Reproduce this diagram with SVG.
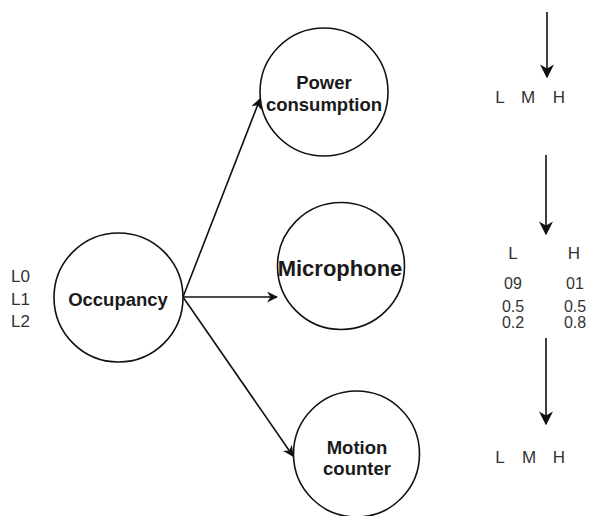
<svg xmlns="http://www.w3.org/2000/svg" width="591" height="516" viewBox="0 0 591 516">
<defs>
<marker id="ah" viewBox="0 0 10 10" refX="9" refY="5" markerWidth="11" markerHeight="11" markerUnits="userSpaceOnUse" orient="auto">
<path d="M0,0 L10,5 L0,10 L3,5 Z" fill="#111"/>
</marker>
<marker id="ahb" viewBox="0 0 10 10" refX="9" refY="5" markerWidth="14" markerHeight="14" markerUnits="userSpaceOnUse" orient="auto">
<path d="M0,0 L10,5 L0,10 L3,5 Z" fill="#111"/>
</marker>
<style>
.node{fill:#fff;stroke:#111;stroke-width:1.6}
.lbl{font-family:"Liberation Sans",Arial,sans-serif;font-weight:bold;fill:#1a1a1a;text-anchor:middle;dominant-baseline:central}
.t{font-family:"Liberation Sans",Arial,sans-serif;fill:#333;font-size:17px;dominant-baseline:central}
.n{font-size:16px}
.c{text-anchor:middle}
.edge{stroke:#111;stroke-width:1.6;fill:none}
</style>
</defs>
<rect width="591" height="516" fill="#fff"/>
<g id="connectors">
<line class="edge" x1="183" y1="297" x2="260" y2="99" marker-end="url(#ah)"/>
<line class="edge" x1="183" y1="297" x2="277" y2="297" marker-end="url(#ah)"/>
<line class="edge" x1="183" y1="297" x2="293" y2="456" marker-end="url(#ah)"/>
<line class="edge" x1="547" y1="12" x2="547" y2="77" marker-end="url(#ahb)"/>
<line class="edge" x1="546" y1="155" x2="546" y2="234" marker-end="url(#ahb)"/>
<line class="edge" x1="546" y1="338" x2="546" y2="424" marker-end="url(#ahb)"/>
</g>
<g id="occupancy">
<circle class="node" cx="118.5" cy="297.5" r="64.5"/>
<text class="lbl" x="118" y="299" font-size="18.5">Occupancy</text>
</g>
<g id="power">
<circle class="node" cx="324" cy="92" r="64"/>
<text class="lbl" x="324" y="82" font-size="18.5">Power</text>
<text class="lbl" x="324" y="104" font-size="18.5">consumption</text>
</g>
<g id="microphone">
<circle class="node" cx="341" cy="266" r="63.5"/>
<text class="lbl" x="340" y="268" font-size="22">Microphone</text>
</g>
<g id="motion">
<circle class="node" cx="356.5" cy="454" r="63"/>
<text class="lbl" x="357" y="447" font-size="18.5">Motion</text>
<text class="lbl" x="357" y="468" font-size="18.5">counter</text>
</g>
<g id="occupancy-states">
<text class="t" x="11" y="276">L0</text>
<text class="t" x="11" y="299">L1</text>
<text class="t" x="11" y="321">L2</text>
</g>
<g id="top-states">
<text class="t c" x="500" y="97">L</text>
<text class="t c" x="528" y="97">M</text>
<text class="t c" x="559" y="97">H</text>
</g>
<g id="table">
<text class="t c" x="513" y="253">L</text>
<text class="t c" x="574" y="253">H</text>
<text class="t n c" x="513" y="283">09</text>
<text class="t n c" x="575" y="283">01</text>
<text class="t n c" x="513" y="306">0.5</text>
<text class="t n c" x="575" y="306">0.5</text>
<text class="t n c" x="513" y="322">0.2</text>
<text class="t n c" x="575" y="322">0.8</text>
</g>
<g id="bottom-states">
<text class="t c" x="500" y="457">L</text>
<text class="t c" x="529" y="457">M</text>
<text class="t c" x="559" y="457">H</text>
</g>
</svg>
